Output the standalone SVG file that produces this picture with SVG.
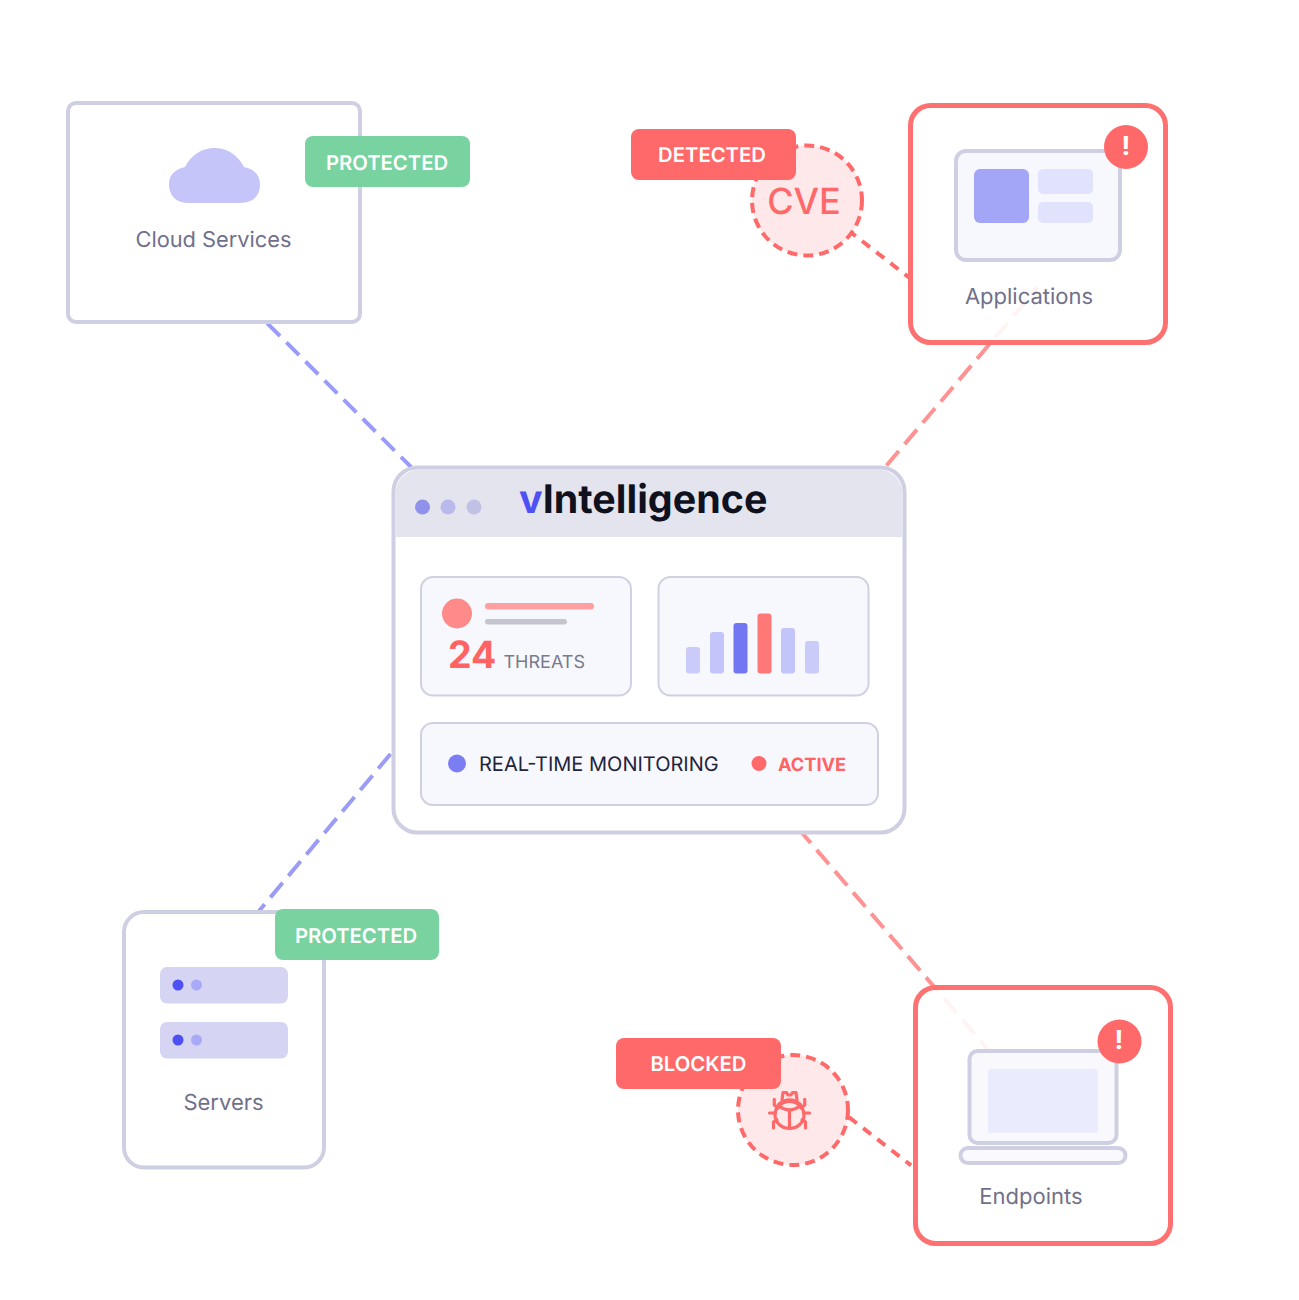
<svg xmlns="http://www.w3.org/2000/svg" width="1299" height="1300" viewBox="0 0 1299 1300">
<style>
text{font-family:Inter,"Liberation Sans",sans-serif;text-rendering:geometricPrecision}
.box{fill:#fff;stroke:#CFCFE3;stroke-width:4}
.alert{fill:#fff;fill-opacity:.9;stroke:#FF7070;stroke-width:5}
.lbl{font-size:22px;fill:#70708A;text-anchor:middle}
.badge{font-size:20.300px;font-weight:600;fill:#fff;text-anchor:middle}
.card{fill:#F7F8FD;stroke:#D0D0E3;stroke-width:2}
.ring{fill:#FEE8E9;stroke:#FF6969;stroke-width:4;stroke-dasharray:10 6}
.blue{stroke:#9A9CF6;stroke-width:4;fill:none}
.red{stroke:#FF9292;stroke-width:4;stroke-dasharray:19 9;fill:none}
.hot{stroke:#FF6969;stroke-width:4;stroke-dasharray:10 8;fill:none}
.bang{font-size:26px;font-weight:700;fill:#fff;text-anchor:middle}
</style>
<rect width="1299" height="1300" fill="#fff"/>
<g id="connectors">
<line class="blue" stroke-dasharray="18 9" x1="267.300" y1="323.300" x2="412" y2="468"/>
<line class="red" x1="886.500" y1="465.500" x2="1038" y2="287"/>
<line class="blue" stroke-dasharray="19 9" x1="390.500" y1="754" x2="259" y2="911"/>
<line class="red" x1="798.400" y1="828.600" x2="990" y2="1052"/>
<line class="hot" x1="847.800" y1="230" x2="909" y2="277.500"/>
<line class="hot" x1="848.900" y1="1117.100" x2="911" y2="1165.300"/>
</g>
<g id="cloud-services">
<rect class="box" x="68" y="103" width="292" height="219" rx="8"/>
<path d="M169 184C169 175 175 169 185 167C191 155 202 148 214.500 148C227 148 238 155 244 167C254 169 260 175 260 184C260 196 253 203 240 203H189C176 203 169 196 169 184Z" fill="#C6C5FA"/>
<text class="lbl" x="213.500" y="247" style="font-size:21.8px">Cloud Services</text>
<rect x="305" y="136" width="165" height="51" rx="8" fill="#78D3A1"/>
<text class="badge" x="387" y="169.500">PROTECTED</text>
</g>
<g id="cve">
<circle class="ring" cx="807" cy="200.500" r="55"/>
<text x="804" y="214" font-size="36" font-weight="500" fill="#FF6969" text-anchor="middle">CVE</text>
<rect x="631" y="129" width="165" height="51" rx="8" fill="#FF6969"/>
<text class="badge" x="712" y="162">DETECTED</text>
</g>
<g id="applications">
<rect class="alert" x="910.500" y="105.500" width="255" height="237" rx="20"/>
<rect x="956" y="151" width="164" height="109" rx="10" fill="#F7F8FD" stroke="#CFCFE3" stroke-width="4"/>
<rect x="974" y="169" width="55" height="54" rx="6" fill="#A3A6F6"/>
<rect x="1038" y="169" width="55" height="25" rx="5" fill="#E1E2FC"/>
<rect x="1038" y="202" width="55" height="21" rx="5" fill="#E1E2FC"/>
<text class="lbl" x="1029" y="304">Applications</text>
<circle cx="1126" cy="147" r="22" fill="#FF6969"/>
<text class="bang" x="1126" y="155">!</text>
</g>
<g id="vintelligence">
<rect x="393.500" y="467.500" width="511" height="365" rx="24" fill="#fff" stroke="#CFCFE3" stroke-width="4"/>
<path d="M395.500 537V493.500A24 24 0 0 1 419.500 469.500H878.500A24 24 0 0 1 902.500 493.500V537Z" fill="#E4E4EE"/>
<circle cx="422.500" cy="507" r="7.500" fill="#8F91EA"/>
<circle cx="448" cy="507" r="7.500" fill="#B9BAEB"/>
<circle cx="474" cy="507" r="7.500" fill="#C0C1E5"/>
<text x="519" y="513" font-size="39.400" font-weight="700" fill="#10111F"><tspan fill="#4F50F4">v</tspan>Intelligence</text>
<rect class="card" x="421" y="577" width="210" height="118.500" rx="12"/>
<circle cx="457" cy="613.500" r="15" fill="#FF8A8A"/>
<rect x="485" y="603" width="109" height="6.500" rx="3.250" fill="#FFA0A0"/>
<rect x="485" y="619" width="82" height="5.500" rx="2.750" fill="#C4C4CE"/>
<text x="448" y="668" font-size="37.500" font-weight="700" fill="#FF6363">24</text>
<text x="503.500" y="668" font-size="18" fill="#7A7A8C">THREATS</text>
<rect class="card" x="658.500" y="577" width="210" height="118.500" rx="12"/>
<rect x="686" y="647" width="14" height="26.500" rx="3" fill="#CACBF9"/>
<rect x="710" y="632" width="14" height="41.500" rx="3" fill="#C3C4F9"/>
<rect x="733.500" y="623" width="14" height="50.500" rx="3" fill="#7276F1"/>
<rect x="757.500" y="613.500" width="14" height="60" rx="3" fill="#FF7878"/>
<rect x="781" y="628" width="14" height="45.500" rx="3" fill="#C3C4F9"/>
<rect x="805" y="641" width="14" height="32.500" rx="3" fill="#CACBF9"/>
<rect class="card" x="421" y="723" width="457" height="82" rx="12"/>
<circle cx="457" cy="763.500" r="9" fill="#7B7EF3"/>
<text x="479" y="771" font-size="20" fill="#23233C">REAL-TIME MONITORING</text>
<circle cx="759" cy="763.500" r="7.500" fill="#FF6969"/>
<text x="778" y="770.500" font-size="18.200" font-weight="700" fill="#FF6363">ACTIVE</text>
</g>
<g id="servers">
<rect class="box" x="124" y="912" width="200" height="255.500" rx="20"/>
<rect x="160" y="967" width="128" height="36.500" rx="7" fill="#D5D4F2"/>
<circle cx="178" cy="985" r="5.500" fill="#4F50F4"/>
<circle cx="196.500" cy="985" r="5.500" fill="#A9AAF7"/>
<rect x="160" y="1022" width="128" height="36.500" rx="7" fill="#D5D4F2"/>
<circle cx="178" cy="1040" r="5.500" fill="#4F50F4"/>
<circle cx="196.500" cy="1040" r="5.500" fill="#A9AAF7"/>
<text class="lbl" x="223.500" y="1109.500">Servers</text>
<rect x="275" y="909" width="164" height="51" rx="8" fill="#78D3A1"/>
<text class="badge" x="356" y="943">PROTECTED</text>
</g>
<g id="bug">
<circle class="ring" cx="793" cy="1110" r="55"/>
<g fill="none" stroke="#FF6969" stroke-width="3.200" stroke-linecap="round" stroke-linejoin="round">
<ellipse cx="789.500" cy="1115" rx="14.500" ry="13.500"/>
<path d="M778 1105Q789.500 1095 801 1105Q789.500 1115 778 1105ZM789.500 1110V1128"/>
<path d="M782 1100L783 1092.500H786.500L788 1095H791L792.500 1092.500H796L797 1100"/>
<path d="M774.300 1099.300V1105L778 1108M804.700 1099.300V1105L801 1108M769.500 1113H775.500M809.500 1113H803.500M773.500 1128V1122L777 1120M805.500 1128V1122L802 1120"/>
</g>
<rect x="616" y="1038" width="165" height="51" rx="8" fill="#FF6969"/>
<text class="badge" x="698.500" y="1071">BLOCKED</text>
</g>
<g id="endpoints">
<rect class="alert" x="915.500" y="987.500" width="255" height="256" rx="20"/>
<rect x="969.500" y="1051" width="147" height="92" rx="8" fill="#F8F8FD" stroke="#CFCFE3" stroke-width="4"/>
<rect x="988" y="1069" width="110" height="64" rx="3" fill="#EAEBFD"/>
<rect x="960.500" y="1148" width="165" height="15" rx="7.500" fill="#FAFAFE" stroke="#CFCFE3" stroke-width="4"/>
<text class="lbl" x="1031" y="1204">Endpoints</text>
<circle cx="1119.500" cy="1041.500" r="22" fill="#FF6969"/>
<text class="bang" x="1119" y="1049">!</text>
</g>
</svg>
